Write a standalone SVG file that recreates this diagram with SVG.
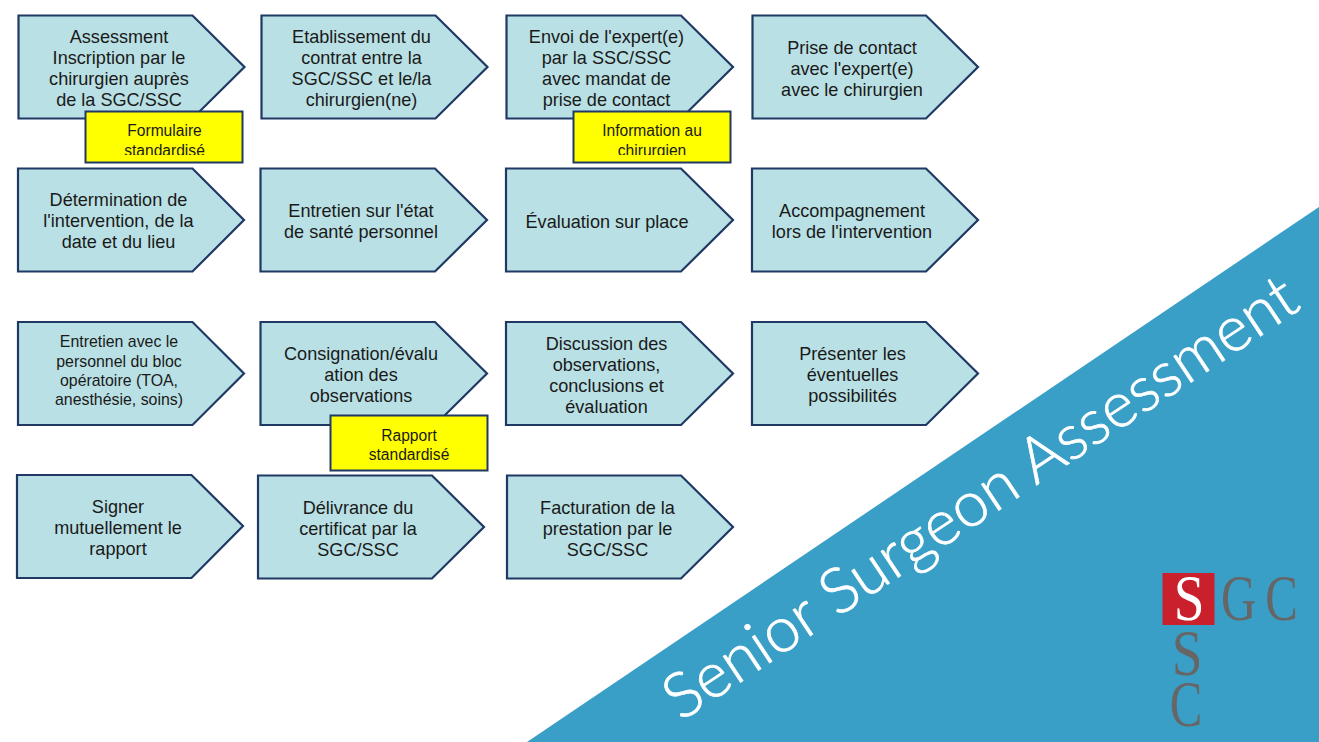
<svg xmlns="http://www.w3.org/2000/svg" width="1319" height="742" viewBox="0 0 1319 742">
<style>
.p{fill:#b9e0e4;stroke:#1f3864;stroke-width:2.2}
.t{font-family:"Liberation Sans",Arial,sans-serif;font-size:18.1px;fill:#1a1a1a;text-anchor:middle;transform:translateY(.7px)}
.s{font-size:15.9px}
.y{fill:#ffff00;stroke:#1f3864;stroke-width:2}
.yt{font-family:"Liberation Sans",Arial,sans-serif;font-size:15.6px;fill:#1a1a1a;text-anchor:middle;transform:translateY(.7px)}
</style>
<defs>
<clipPath id="c1"><rect x="86" y="112" width="156" height="43"/></clipPath>
<clipPath id="c2"><rect x="574" y="112" width="156" height="43"/></clipPath>
</defs>
<rect width="1319" height="742" fill="#fff"/>
<polygon points="527,742 1319,207 1319,742" fill="#3a9fc7"/>
<g id="connectors"/>
<g id="n1"><polygon class="p" points="18.500,15.500 192.500,15.500 244.500,67 192.500,118.500 18.500,118.500"/><text class="t" x="119" y="42">Assessment</text><text class="t" x="119" y="63">Inscription par le</text><text class="t" x="119" y="84">chirurgien auprès</text><text class="t" x="119" y="105">de la SGC/SSC</text></g>
<g id="n2"><polygon class="p" points="261.500,15.500 435.500,15.500 487.500,67 435.500,118.500 261.500,118.500"/><text class="t" x="361.500" y="42">Etablissement du</text><text class="t" x="361.500" y="63">contrat entre la</text><text class="t" x="361.500" y="84">SGC/SSC et le/la</text><text class="t" x="361.500" y="105">chirurgien(ne)</text></g>
<g id="n3"><polygon class="p" points="506.500,15.500 681,15.500 733,67 681,118.500 506.500,118.500"/><text class="t" x="606.500" y="42">Envoi de l'expert(e)</text><text class="t" x="606.500" y="63">par la SSC/SSC</text><text class="t" x="606.500" y="84">avec mandat de</text><text class="t" x="606.500" y="105">prise de contact</text></g>
<g id="n4"><polygon class="p" points="752.500,15.500 926,15.500 978,67 926,118.500 752.500,118.500"/><text class="t" x="852" y="53">Prise de contact</text><text class="t" x="852" y="74">avec l'expert(e)</text><text class="t" x="852" y="95">avec le chirurgien</text></g>
<g id="n5"><polygon class="p" points="18,168.500 192.500,168.500 244,220 192.500,271.500 18,271.500"/><text class="t" x="118.500" y="205">Détermination de</text><text class="t" x="118.500" y="226">l'intervention, de la</text><text class="t" x="118.500" y="247">date et du lieu</text></g>
<g id="n6"><polygon class="p" points="260.500,168.500 435,168.500 487,220 435,271.500 260.500,271.500"/><text class="t" x="361" y="216">Entretien sur l'état</text><text class="t" x="361" y="237">de santé personnel</text></g>
<g id="n7"><polygon class="p" points="506,168.500 681,168.500 733,220 681,271.500 506,271.500"/><text class="t" x="607" y="227">Évaluation sur place</text></g>
<g id="n8"><polygon class="p" points="752,168.500 926,168.500 978,220 926,271.500 752,271.500"/><text class="t" x="852" y="216">Accompagnement</text><text class="t" x="852" y="237">lors de l'intervention</text></g>
<g id="n9"><polygon class="p" points="18,322 192.500,322 244,373.500 192.500,425 18,425"/><text class="t s" x="119" y="346">Entretien avec le</text><text class="t s" x="119" y="366">personnel du bloc</text><text class="t s" x="119" y="385">opératoire (TOA,</text><text class="t s" x="119" y="404">anesthésie, soins)</text></g>
<g id="n10"><polygon class="p" points="260.500,322 435,322 487,373.500 435,425 260.500,425"/><text class="t" x="361" y="359">Consignation/évalu</text><text class="t" x="361" y="380">ation des</text><text class="t" x="361" y="401">observations</text></g>
<g id="n11"><polygon class="p" points="506,322 681,322 733,373.500 681,425 506,425"/><text class="t" x="606.500" y="349">Discussion des</text><text class="t" x="606.500" y="370">observations,</text><text class="t" x="606.500" y="391">conclusions et</text><text class="t" x="606.500" y="412">évaluation</text></g>
<g id="n12"><polygon class="p" points="752,322 926,322 978,373.500 926,425 752,425"/><text class="t" x="852.500" y="359">Présenter les</text><text class="t" x="852.500" y="380">éventuelles</text><text class="t" x="852.500" y="401">possibilités</text></g>
<g id="n13"><polygon class="p" points="17,475 191.500,475 243,526 191.500,578 17,578"/><text class="t" x="118" y="512">Signer</text><text class="t" x="118" y="533">mutuellement le</text><text class="t" x="118" y="554">rapport</text></g>
<g id="n14"><polygon class="p" points="258,475.500 432,475.500 484,527 432,578.500 258,578.500"/><text class="t" x="358" y="513">Délivrance du</text><text class="t" x="358" y="534">certificat par la</text><text class="t" x="358" y="555">SGC/SSC</text></g>
<g id="n15"><polygon class="p" points="507,475.500 681,475.500 733,527 681,578.500 507,578.500"/><text class="t" x="607.500" y="513">Facturation de la</text><text class="t" x="607.500" y="534">prestation par le</text><text class="t" x="607.500" y="555">SGC/SSC</text></g>
<g id="y1"><rect class="y" x="85.500" y="111.500" width="157" height="51"/><g clip-path="url(#c1)"><text class="yt" x="164.500" y="135">Formulaire</text><text class="yt" x="164.500" y="155">standardisé</text></g></g>
<g id="y2"><rect class="y" x="573.500" y="111.500" width="157" height="51"/><g clip-path="url(#c2)"><text class="yt" x="652" y="135">Information au</text><text class="yt" x="652" y="155">chirurgien</text></g></g>
<g id="y3"><rect class="y" x="330.500" y="415.500" width="157" height="55"/><text class="yt" x="409" y="440">Rapport</text><text class="yt" x="409" y="459">standardisé</text></g>
<text id="title" transform="translate(681 722) rotate(-33.650)" font-family="Lato,'Open Sans',sans-serif" font-weight="300" font-size="63" fill="#fff" stroke="#fff" stroke-width=".7" textLength="747" lengthAdjust="spacing">Senior Surgeon Assessment</text>
<g id="logo" font-family="'Liberation Serif',serif" font-size="65" fill="#666" text-anchor="middle"><rect x="1162.500" y="573" width="52" height="52" fill="#c9202c"/><text transform="translate(1189 620) scale(.85 1)" fill="#fff">S</text><text transform="translate(1238.500 620) scale(.75 1)">G</text><text transform="translate(1281.500 620) scale(.75 1)">C</text><text transform="translate(1187 675) scale(.85 1)">S</text><text transform="translate(1186 726) scale(.75 1)">C</text></g>
</svg>
